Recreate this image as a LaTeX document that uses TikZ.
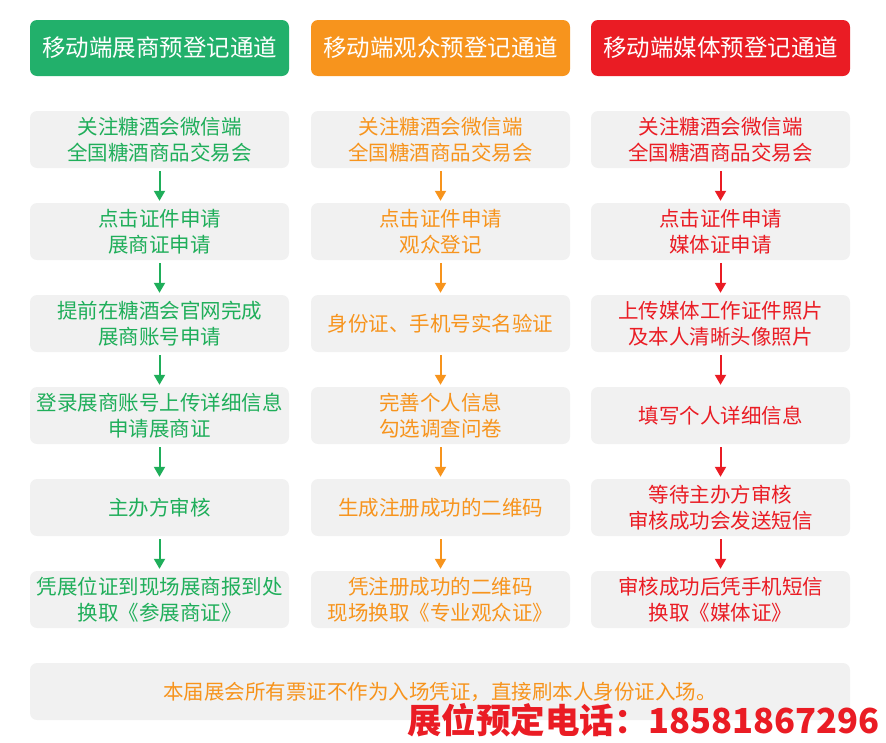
\documentclass[tikz,border=0pt]{standalone}
\usepackage{fontspec}
\newfontfamily\cjk{Noto Sans CJK SC}
\usetikzlibrary{arrows.meta}
\definecolor{cg}{HTML}{22B06B}
\definecolor{co}{HTML}{F7941D}
\definecolor{cr}{HTML}{EA1C24}
\definecolor{tg}{HTML}{1FAE5A}
\definecolor{bx}{HTML}{F1F1F1}
\tikzset{
 hdr/.style={rounded corners=7pt,minimum width=259pt,minimum height=56pt,text=white,font=\cjk\fontsize{23.5}{26}\selectfont,inner sep=0pt},
 box/.style={fill=bx,rounded corners=7pt,minimum width=259pt,minimum height=57pt,align=center,font=\cjk\fontsize{20.5}{26}\selectfont,inner sep=0pt},
 arr/.style={line width=2pt,-{Triangle[length=10pt,width=11pt]},shorten <=3pt,shorten >=2pt}
}
\begin{document}
\begin{tikzpicture}[x=1pt,y=-1pt]
\useasboundingbox (0,0) rectangle (886,742);
\node[hdr,fill=cg] (h1) at (159.5,48) {移动端展商预登记通道};
\node[hdr,fill=co] (h2) at (440.5,48) {移动端观众预登记通道};
\node[hdr,fill=cr] (h3) at (720.5,48) {移动端媒体预登记通道};
% column 1
\node[box,text=tg] (a1) at (159.5,139.5) {关注糖酒会微信端\\全国糖酒商品交易会};
\node[box,text=tg] (a2) at (159.5,231.5) {点击证件申请\\展商证申请};
\node[box,text=tg] (a3) at (159.5,323.5) {提前在糖酒会官网完成\\展商账号申请};
\node[box,text=tg] (a4) at (159.5,415.5) {登录展商账号上传详细信息\\申请展商证};
\node[box,text=tg] (a5) at (159.5,507.5) {主办方审核};
\node[box,text=tg] (a6) at (159.5,599.5) {凭展位证到现场展商报到处\\换取《参展商证》};
% column 2
\node[box,text=co] (b1) at (440.5,139.5) {关注糖酒会微信端\\全国糖酒商品交易会};
\node[box,text=co] (b2) at (440.5,231.5) {点击证件申请\\观众登记};
\node[box,text=co] (b3) at (440.5,323.5) {身份证、手机号实名验证};
\node[box,text=co] (b4) at (440.5,415.5) {完善个人信息\\勾选调查问卷};
\node[box,text=co] (b5) at (440.5,507.5) {生成注册成功的二维码};
\node[box,text=co] (b6) at (440.5,599.5) {凭注册成功的二维码\\现场换取《专业观众证》};
% column 3
\node[box,text=cr] (c1) at (720.5,139.5) {关注糖酒会微信端\\全国糖酒商品交易会};
\node[box,text=cr] (c2) at (720.5,231.5) {点击证件申请\\媒体证申请};
\node[box,text=cr] (c3) at (720.5,323.5) {上传媒体工作证件照片\\及本人清晰头像照片};
\node[box,text=cr] (c4) at (720.5,415.5) {填写个人详细信息};
\node[box,text=cr] (c5) at (720.5,507.5) {等待主办方审核\\审核成功会发送短信};
\node[box,text=cr] (c6) at (720.5,599.5) {审核成功后凭手机短信\\换取《媒体证》};
\foreach \p/\q in {1/2,2/3,3/4,4/5,5/6}{
 \draw[arr,tg] (a\p) -- (a\q);
 \draw[arr,co] (b\p) -- (b\q);
 \draw[arr,cr] (c\p) -- (c\q);
}
\node[box,text=co,minimum width=820pt] (n) at (440,691.5) {本届展会所有票证不作为入场凭证，直接刷本人身份证入场。};
\node[anchor=east,text=cr,font=\cjk\bfseries\fontsize{34.5}{36}\selectfont,inner sep=0pt] (p) at (880,720) {展位预定电话：18581867296};
\end{tikzpicture}
\end{document}
